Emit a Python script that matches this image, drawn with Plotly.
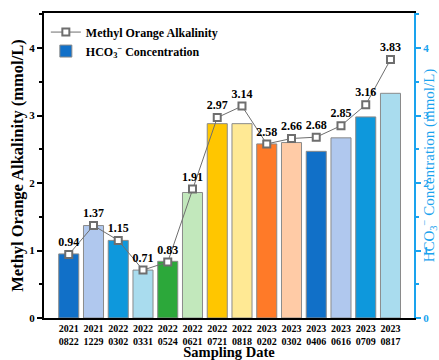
import plotly.graph_objects as go

# Sampling dates: year and month-day, shown on two tick rows
years = ["2021", "2021", "2022", "2022", "2022", "2022", "2022", "2022",
         "2023", "2023", "2023", "2023", "2023", "2023"]
monthdays = ["0822", "1229", "0302", "0331", "0524", "0621", "0721", "0818",
             "0202", "0302", "0406", "0616", "0709", "0817"]
positions = list(range(len(years)))
date_labels = [f"{y}<br>{md}" for y, md in zip(years, monthdays)]

# Methyl orange alkalinity (mmol/L)
alkalinity = [0.94, 1.37, 1.15, 0.71, 0.83, 1.91, 2.97, 3.14, 2.58, 2.66, 2.68, 2.85, 3.16, 3.83]

# HCO3- concentration (mmol/L)
hco3 = [0.95, 1.37, 1.15, 0.71, 0.84, 1.86, 2.88, 2.88, 2.58, 2.60, 2.47, 2.67, 2.98, 3.33]

bar_colors = ["#1170c8", "#b0c8ee", "#0e98dc", "#a9dcee", "#2ca83a", "#c2e8bc",
              "#ffc600", "#ffe994", "#ff7a28", "#ffcba6", "#1170c8", "#b0c8ee",
              "#0e98dc", "#a9dcee"]

serif = "Liberation Serif"
blue_axis = "#1aa3ee"
x_range = [-1.0, 13.95]

fig = go.Figure()

# Bars on the right-hand concentration axis
fig.add_trace(go.Bar(
    x=positions, y=hco3, yaxis="y2",
    name="HCO<sub>3</sub><sup>−</sup> Concentration",
    marker=dict(color=bar_colors, line=dict(color="#8a8a8a", width=1)),
    width=0.81,
))

# Alkalinity line on the left axis, which overlays the bar axis so it is drawn on top
fig.add_trace(go.Scatter(
    x=positions, y=alkalinity, yaxis="y",
    name="Methyl Orange Alkalinity",
    mode="lines+markers+text",
    line=dict(color="#6e6e6e", width=1),
    marker=dict(symbol="square", size=7, color="white",
                line=dict(color="#6e6e6e", width=2)),
    text=[f"{v:.2f}" for v in alkalinity],
    textposition="top center",
    textfont=dict(family=serif, size=12, color="black", weight="bold"),
    cliponaxis=False,
))

fig.update_layout(
    width=439, height=360,
    margin=dict(l=44, r=25, t=13, b=42),
    plot_bgcolor="white", paper_bgcolor="white",
    font=dict(family=serif, color="black"),
    showlegend=True,
    legend=dict(x=0.005, y=0.985, xanchor="left", yanchor="top",
                bgcolor="rgba(0,0,0,0)", traceorder="reversed",
                font=dict(family=serif, size=12, weight="bold"),
                itemwidth=30, tracegroupgap=0),
    xaxis=dict(
        range=x_range,
        tickmode="array", tickvals=positions, ticktext=date_labels,
        showline=True, linecolor="black", linewidth=2, mirror=True,
        ticks="", showgrid=False, zeroline=False,
        tickfont=dict(family=serif, size=10, weight="bold"),
        title=dict(text="Sampling Date", standoff=2,
                   font=dict(family=serif, size=14.5, weight="bold")),
        automargin=False,
    ),
    yaxis2=dict(
        side="right", range=[0, 4.52],
        showline=True, linecolor=blue_axis, linewidth=2,
        ticks="outside", ticklen=5, tickcolor=blue_axis, tickwidth=1.5,
        tickvals=[0, 1, 2, 3, 4],
        minor=dict(ticks="outside", ticklen=3, tickcolor=blue_axis, dtick=0.5),
        showgrid=False, zeroline=False,
        tickfont=dict(family=serif, size=11, color=blue_axis, weight="bold"),
        title=dict(text="HCO<sub>3</sub><sup>−</sup> Concentration (mmol/L)", standoff=20,
                   font=dict(family=serif, size=15, color=blue_axis)),
        automargin=False,
    ),
    yaxis=dict(
        overlaying="y2", side="left", range=[0, 4.52],
        showline=True, linecolor="black", linewidth=2,
        ticks="outside", ticklen=5, tickcolor="black", tickwidth=1.5,
        tickvals=[0, 1, 2, 3, 4],
        minor=dict(ticks="outside", ticklen=3, tickcolor="black", dtick=0.5),
        showgrid=False, zeroline=False,
        tickfont=dict(family=serif, size=11, weight="bold"),
        title=dict(text="Methyl Orange Alkalinity (mmol/L)", standoff=2,
                   font=dict(family=serif, size=16.5, weight="bold")),
        automargin=False,
    ),
)

fig.write_html("out.html")
